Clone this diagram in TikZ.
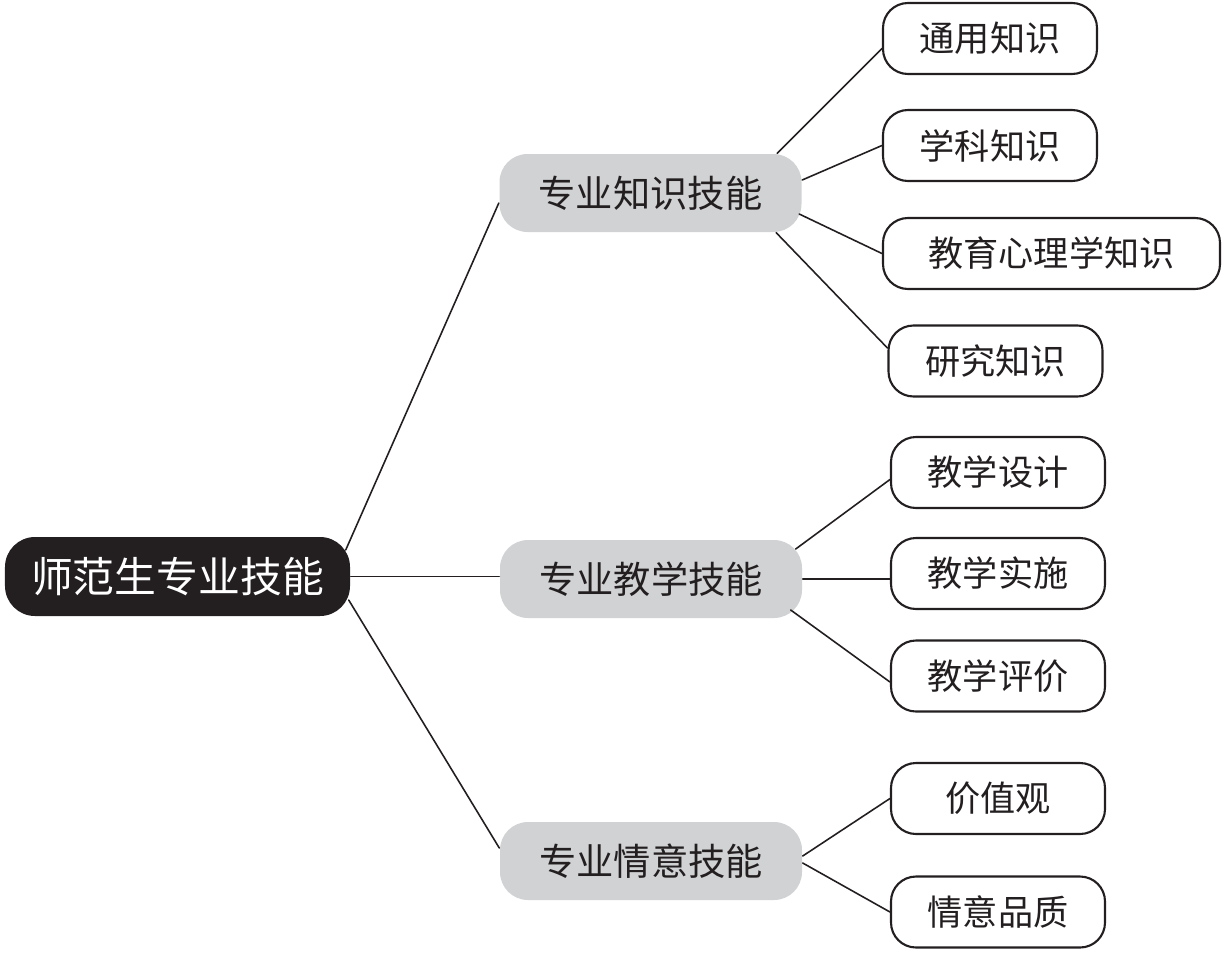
\documentclass[tikz,border=0pt]{standalone}
\usepackage{fontspec}
\setmainfont{Noto Sans CJK SC}
\definecolor{heise}{HTML}{231F20}
\definecolor{huise}{HTML}{D1D2D4}
\begin{document}
\begin{tikzpicture}[line join=round, line cap=round,
	gen/.style={fill=heise, text=white, rounded corners=0.3cm, minimum width=3.45cm, minimum height=0.79cm, inner sep=0pt, font=\fontsize{11.9}{14}\selectfont},
	zhi/.style={fill=huise, text=heise, rounded corners=0.28cm, minimum width=3.02cm, minimum height=0.78cm, inner sep=0pt, font=\fontsize{10.6}{13}\selectfont},
	ye/.style={draw=heise, line width=0.6pt, text=heise, rounded corners=0.25cm, minimum width=2.14cm, minimum height=0.71cm, inner sep=0pt, font=\fontsize{10}{12}\selectfont},
	xian/.style={draw=heise, line width=0.45pt}]
\useasboundingbox (0,0) rectangle (12.24,9.6);
% gen
\node[gen] (r) at (1.775,3.835) {师范生专业技能};
% zhi
\node[zhi] (k1) at (6.505,7.67) {专业知识技能};
\node[zhi] (k2) at (6.51,3.81) {专业教学技能};
\node[zhi] (k3) at (6.51,0.99) {专业情意技能};
% ye
\node[ye] (l1) at (9.90,9.215) {通用知识};
\node[ye] (l2) at (9.90,8.145) {学科知识};
\node[ye, minimum width=3.37cm] (l3) at (10.515,7.065) {教育心理学知识};
\node[ye] (l4) at (9.955,5.99) {研究知识};
\node[ye] (m1) at (9.98,4.875) {教学设计};
\node[ye] (m2) at (9.98,3.865) {教学实施};
\node[ye] (m3) at (9.98,2.84) {教学评价};
\node[ye] (n1) at (9.98,1.615) {价值观};
\node[ye] (n2) at (9.98,0.48) {情意品质};
% xian
\draw[xian] ([xshift=-0.05cm,yshift=0.265cm]r.east)--([yshift=-0.1cm]k1.west);
\draw[xian] (r.east)--(k2.west |- r.east);
\draw[xian] ([xshift=-0.02cm,yshift=-0.235cm]r.east)--([yshift=0.13cm]k3.west);
\draw[xian] ([xshift=-0.25cm]k1.north east)--([yshift=-0.1cm]l1.west);
\draw[xian] ([yshift=0.13cm]k1.east)--(l2.west);
\draw[xian] ([xshift=-0.03cm,yshift=-0.21cm]k1.east)--(l3.west);
\draw[xian] ([xshift=-0.26cm]k1.south east)--([yshift=0.13cm]l4.west);
\draw[xian] ([xshift=-0.07cm,yshift=0.3cm]k2.east)--([yshift=-0.07cm]m1.west);
\draw[xian] (k2.east)--(m2.west |- k2.east);
\draw[xian] ([xshift=-0.12cm,yshift=-0.31cm]k2.east)--([yshift=-0.06cm]m3.west);
\draw[xian] ([yshift=0.05cm]k3.east)--(n1.west);
\draw[xian] ([yshift=-0.02cm]k3.east)--(n2.west);
\end{tikzpicture}
\end{document}
